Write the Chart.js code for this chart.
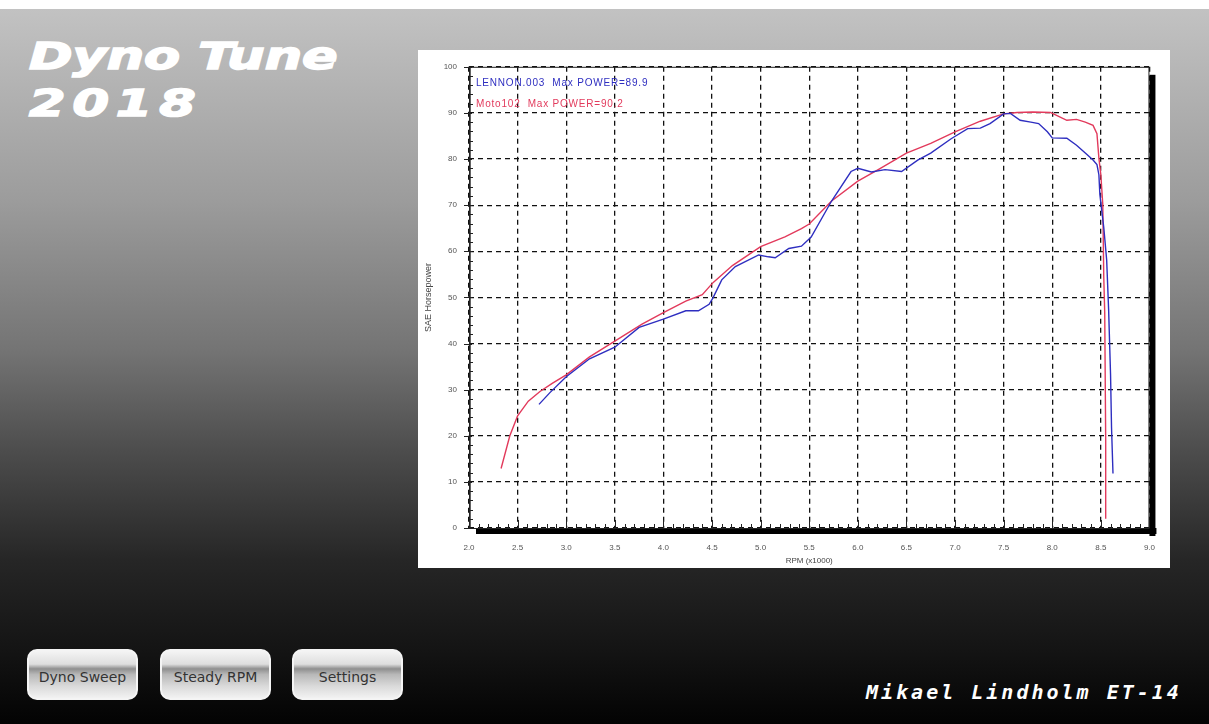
<!DOCTYPE html>
<html>
<head>
<meta charset="utf-8">
<script src="https://cdn.jsdelivr.net/npm/chart.js@4.4.1/dist/chart.umd.min.js"></script>
<style>
  html, body { margin: 0; padding: 0; }
  body {
    width: 1209px; height: 724px; overflow: hidden; position: relative;
    background: linear-gradient(to bottom, #ffffff 0px, #ffffff 9px, #c2c2c2 9px, #9c9c9c 200px,
      #747474 350px, #4d4d4d 450px, #262626 560px, #141414 650px, #030303 724px);
  }
  .title {
    position: absolute; left: 29px; color: #fff;
    font-family: "DejaVu Sans", sans-serif; font-weight: bold; font-style: italic;
    font-size: 38px; line-height: 38px;
    -webkit-text-stroke: 1.6px #fff;
    transform: scaleX(1.38); transform-origin: left top;
  }
  #t1 { top: 37px; letter-spacing: 0px; }
  #t2 { top: 84px; letter-spacing: 5px; }
  #panel {
    position: absolute; left: 418px; top: 50px; width: 752px; height: 518px;
    background: #fff;
  }
  .btn {
    position: absolute; top: 649px; width: 111px; height: 51px;
    box-sizing: border-box; border: 2px solid #f4f4f4; border-radius: 10px;
    background: linear-gradient(to bottom, #f4f4f4 0%, #dedede 28%, #8e8e8e 38%, #b8b8b8 50%, #dadada 75%, #f2f2f2 100%);
    font-family: "DejaVu Sans", sans-serif; font-size: 14px; color: #333;
    display: flex; align-items: center; justify-content: center; padding-top: 5px;
  }
  #sign {
    position: absolute; left: 866px; top: 680px; color: #fff;
    font-family: "DejaVu Sans Mono", monospace; font-weight: bold; font-style: italic;
    font-size: 20px; letter-spacing: 3px;
  }
</style>
</head>
<body>
<div class="title" id="t1">Dyno Tune</div>
<div class="title" id="t2">2018</div>

<div id="panel"><canvas id="myChart"></canvas></div>

<div class="btn" style="left:27px">Dyno Sweep</div>
<div class="btn" style="left:160px">Steady RPM</div>
<div class="btn" style="left:292px">Settings</div>
<div id="sign">Mikael Lindholm ET-14</div>

<script>
// run names and reported peaks
var runNames = ["LENNON.003", "Moto102"];
var maxPowers = ["89.9", "90.2"];
var runColors = ["#2e2ec0", "#e23a5c"];

// LENNON.003 (blue)
var blueRpm = [2.72, 2.83, 3.00, 3.24, 3.50, 3.75, 4.00, 4.23, 4.36, 4.47, 4.51, 4.60, 4.74, 4.98, 5.08,
  5.15, 5.29, 5.42, 5.52, 5.73, 5.93, 6.00, 6.14, 6.28, 6.45, 6.62, 6.75, 6.96, 7.13, 7.26, 7.36,
  7.50, 7.57, 7.67, 7.78, 7.86, 7.95, 8.00, 8.15, 8.25, 8.34, 8.42, 8.46, 8.48, 8.49, 8.53, 8.56,
  8.58, 8.59, 8.60, 8.61, 8.625];
var blueHp = [26.8, 29.3, 32.8, 36.7, 39.2, 43.5, 45.3, 47.1, 47.1, 48.5, 49.9, 53.8, 56.7, 59.2, 58.8,
  58.6, 60.6, 61.1, 63.1, 70.9, 77.3, 78.0, 77.2, 77.7, 77.3, 79.8, 81.3, 84.4, 86.6, 86.7, 87.7,
  89.8, 89.9, 88.4, 88.0, 87.7, 85.9, 84.6, 84.5, 83.0, 81.3, 79.8, 78.8, 76.6, 72.3, 65.2, 58.1,
  47.4, 40.3, 33.2, 21.8, 11.8];

// Moto102 (red)
var redRpm = [2.33, 2.42, 2.50, 2.61, 2.73, 2.86, 3.00, 3.24, 3.50, 3.78, 4.00, 4.23, 4.40, 4.51, 4.71,
  5.00, 5.25, 5.42, 5.50, 5.73, 6.00, 6.21, 6.50, 6.75, 7.00, 7.26, 7.50, 7.64, 7.80, 7.98, 8.05,
  8.15, 8.25, 8.34, 8.42, 8.46, 8.48, 8.50, 8.52, 8.53, 8.54, 8.55, 8.55];
var redHp = [12.9, 20.0, 24.3, 27.5, 29.6, 31.4, 33.2, 37.1, 40.5, 44.2, 46.7, 49.2, 50.6, 53.2, 56.9,
  61.0, 63.1, 64.9, 65.9, 70.9, 75.2, 77.7, 81.3, 83.4, 85.9, 88.2, 89.8, 90.1, 90.2, 90.1, 89.4,
  88.4, 88.6, 88.0, 87.3, 85.5, 80.2, 76.6, 70.2, 54.5, 46.7, 18.9, 2.0];

function toPoints(xs, ys) {
  var pts = [];
  for (var i = 0; i < xs.length; i++) {
    pts.push({x: xs[i], y: ys[i]});
  }
  return pts;
}

// frame, drop shadow, minor ticks and run labels
var dynoFrame = {
  id: "dynoFrame",
  afterDatasetsDraw: function(chart) {
    var ctx = chart.ctx;
    var a = chart.chartArea;
    var sx = chart.scales.x, sy = chart.scales.y;
    ctx.save();
    ctx.fillStyle = "#000";
    ctx.fillRect(a.right, a.top + 8, 6, a.bottom - a.top);
    ctx.fillRect(a.left + 7, a.bottom, a.right - a.left, 6);
    ctx.strokeStyle = "#222";
    ctx.lineWidth = 1;
    ctx.strokeRect(a.left + 0.5, a.top + 0.5, a.right - a.left - 1, a.bottom - a.top);
    ctx.lineWidth = 1.4;
    ctx.beginPath();
    ctx.moveTo(a.left + 1, a.top);
    ctx.lineTo(a.left + 1, a.bottom);
    ctx.stroke();

    // x ticks, every 0.1
    ctx.lineWidth = 1;
    ctx.beginPath();
    for (var i = 20; i <= 90; i++) {
      var px = Math.round(sx.getPixelForValue(i / 10)) + 0.5;
      var len = (i % 5 === 0) ? 8 : 4;
      ctx.moveTo(px, a.bottom);
      ctx.lineTo(px, a.bottom - len);
    }
    // y ticks, every 2
    for (var v = 0; v <= 100; v += 2) {
      var py = Math.round(sy.getPixelForValue(v)) + 0.5;
      if (v % 10 === 0) {
        ctx.moveTo(a.left - 5, py);
        ctx.lineTo(a.left + 3, py);
      } else {
        ctx.moveTo(a.left, py);
        ctx.lineTo(a.left + 4, py);
      }
    }
    ctx.stroke();

    ctx.font = "10px 'Liberation Sans', Arial, sans-serif";
    ctx.letterSpacing = "0.8px";
    ctx.textBaseline = "middle";
    for (var k = 0; k < runNames.length; k++) {
      ctx.fillStyle = runColors[k];
      ctx.fillText(runNames[k] + "  Max POWER=" + maxPowers[k], a.left + 7, a.top + 16 + k * 21);
    }
    ctx.restore();
  }
};

var graphic = document.getElementById("myChart");
var chart = new Chart(graphic, {
  type: "scatter",
  data: {
    datasets: [{
      label: runNames[0],
      data: toPoints(blueRpm, blueHp),
      showLine: true,
      borderColor: runColors[0],
      borderWidth: 1.4,
      pointRadius: 0,
      tension: 0
    }, {
      label: runNames[1],
      data: toPoints(redRpm, redHp),
      showLine: true,
      borderColor: runColors[1],
      borderWidth: 1.4,
      pointRadius: 0,
      tension: 0
    }]
  },
  options: {
    responsive: true,
    maintainAspectRatio: false,
    animation: false,
    layout: { padding: { left: 0, right: 17, top: 11, bottom: 0 } },
    plugins: {
      legend: { display: false },
      tooltip: { enabled: false }
    },
    scales: {
      x: {
        type: "linear",
        min: 2, max: 9,
        afterFit: function(scale) { scale.height = 40; },
        ticks: {
          stepSize: 0.5,
          padding: 15,
          color: "#555",
          font: { size: 8, family: "'Liberation Sans', Arial, sans-serif" },
          callback: function(v) { return v.toFixed(1); }
        },
        grid: { color: "#111", lineWidth: 1.3, drawTicks: false },
        border: { display: false, dash: [5, 4] },
        title: {
          display: true, text: "RPM (x1000)", color: "#444",
          font: { size: 8, family: "'Liberation Sans', Arial, sans-serif" },
          padding: { top: 0, bottom: 2 }
        }
      },
      y: {
        min: 0, max: 100,
        afterFit: function(scale) { scale.width = 51; },
        ticks: {
          stepSize: 10,
          padding: 12,
          color: "#555",
          font: { size: 8, family: "'Liberation Sans', Arial, sans-serif" }
        },
        grid: { color: "#111", lineWidth: 1.3, drawTicks: false },
        border: { display: false, dash: [5, 4] },
        title: {
          display: true, text: "SAE Horsepower", color: "#444",
          font: { size: 9, family: "'Liberation Sans', Arial, sans-serif" },
          padding: { top: 5, bottom: 0 }
        }
      }
    }
  },
  plugins: [dynoFrame]
});
</script>
</body>
</html>
